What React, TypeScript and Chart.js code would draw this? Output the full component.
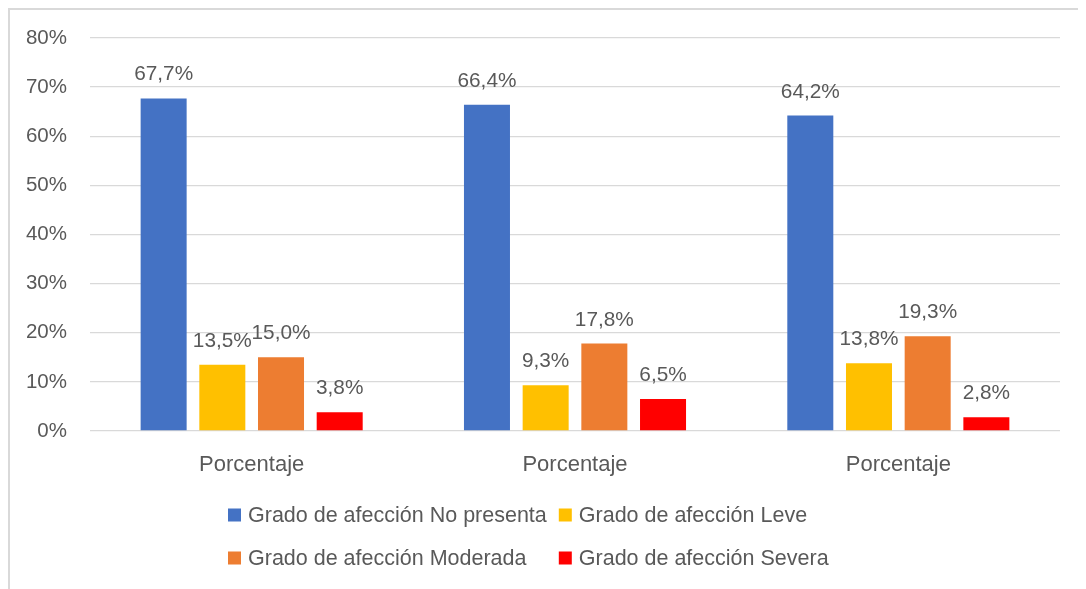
import React, { useEffect, useRef } from "react";
import { Chart, registerables } from "chart.js";

Chart.register(...registerables);

const categories = ["Porcentaje", "Porcentaje", "Porcentaje"];
const seriesNames = [
  "Grado de afección No presenta",
  "Grado de afección Leve",
  "Grado de afección Moderada",
  "Grado de afección Severa",
];
const noPresenta = [67.7, 66.4, 64.2];
const leve = [13.5, 9.3, 13.8];
const moderada = [15.0, 17.8, 19.3];
const severa = [3.8, 6.5, 2.8];
const seriesColors = ["#4472C4", "#FFC000", "#ED7D31", "#FF0000"];
const yMax = 80;
const yStep = 10;

const FONT = "'Liberation Sans', Arial, sans-serif";
const TEXT = "#595959";

const fmt = (v: number) => v.toFixed(1).replace(".", ",") + "%";

const dataLabelPlugin = {
  id: "dataLabels",
  afterDatasetsDraw(chart: any) {
    const ctx = chart.ctx;
    ctx.save();
    ctx.font = `20.8px ${FONT}`;
    ctx.fillStyle = TEXT;
    ctx.textAlign = "center";
    ctx.textBaseline = "alphabetic";
    chart.data.datasets.forEach((ds: any, i: number) => {
      const meta = chart.getDatasetMeta(i);
      meta.data.forEach((el: any, j: number) => {
        ctx.fillText(fmt(ds.data[j]), el.x, el.y - 18);
      });
    });
    ctx.restore();
  },
};

const gridLegendPlugin = {
  id: "gridLegend",
  afterDraw(chart: any) {
    const ctx = chart.ctx;
    const ds = chart.data.datasets;
    ctx.save();
    ctx.font = `21.5px ${FONT}`;
    ctx.textBaseline = "middle";
    ctx.textAlign = "left";
    const box = 13;
    const textGap = 7;
    const colGap = 12;
    const col1W = Math.max(
      ctx.measureText(ds[0].label).width,
      ctx.measureText(ds[2].label).width
    );
    const x1 = 218;
    const x2 = x1 + box + textGap + col1W + colGap;
    const rows = [505, 548];
    ds.forEach((d: any, i: number) => {
      const x = i % 2 === 0 ? x1 : x2;
      const y = rows[Math.floor(i / 2)];
      ctx.fillStyle = d.backgroundColor;
      ctx.fillRect(x, y - box / 2, box, box);
      ctx.fillStyle = TEXT;
      ctx.fillText(d.label, x + box + textGap, y + 1);
    });
    ctx.restore();
  },
};

export default function App() {
  const ref = useRef<HTMLCanvasElement | null>(null);
  useEffect(() => {
    if (!ref.current) return;
    const values = [noPresenta, leve, moderada, severa];
    const chart = new Chart(ref.current, {
      type: "bar",
      data: {
        labels: categories,
        datasets: values.map((v, i) => ({
          label: seriesNames[i],
          data: v,
          backgroundColor: seriesColors[i],
          borderWidth: 0,
          categoryPercentage: 0.726,
          barPercentage: 0.784,
        })),
      },
      options: {
        responsive: false,
        maintainAspectRatio: false,
        animation: false,
        layout: { padding: { top: 28, right: 26, bottom: 0, left: 0 } },
        plugins: {
          legend: { display: false },
          tooltip: { enabled: false },
        },
        scales: {
          x: {
            grid: { display: false },
            border: { display: false },
            ticks: {
              color: TEXT,
              font: { family: FONT, size: 22 },
              padding: 13,
            },
            afterFit(scale: any) {
              scale.height = 158;
            },
          },
          y: {
            min: 0,
            max: yMax,
            grid: { color: "#D9D9D9", lineWidth: 1.3, drawTicks: false },
            border: { display: false },
            ticks: {
              stepSize: yStep,
              color: TEXT,
              font: { family: FONT, size: 20.5 },
              padding: 23,
              callback: (v: any) => v + "%",
            },
            afterFit(scale: any) {
              scale.width = 80;
              scale.paddingTop = 12;
              scale.paddingBottom = 12;
            },
          },
        },
      },
      plugins: [dataLabelPlugin, gridLegendPlugin],
    });
    return () => chart.destroy();
  }, []);
  return (
    <div
      style={{
        borderTop: "2px solid #D9D9D9",
        borderLeft: "2px solid #D9D9D9",
        width: 1076,
        height: 579,
        background: "#fff",
      }}
    >
      <canvas ref={ref} width={1076} height={579} style={{ display: "block" }} />
    </div>
  );
}
